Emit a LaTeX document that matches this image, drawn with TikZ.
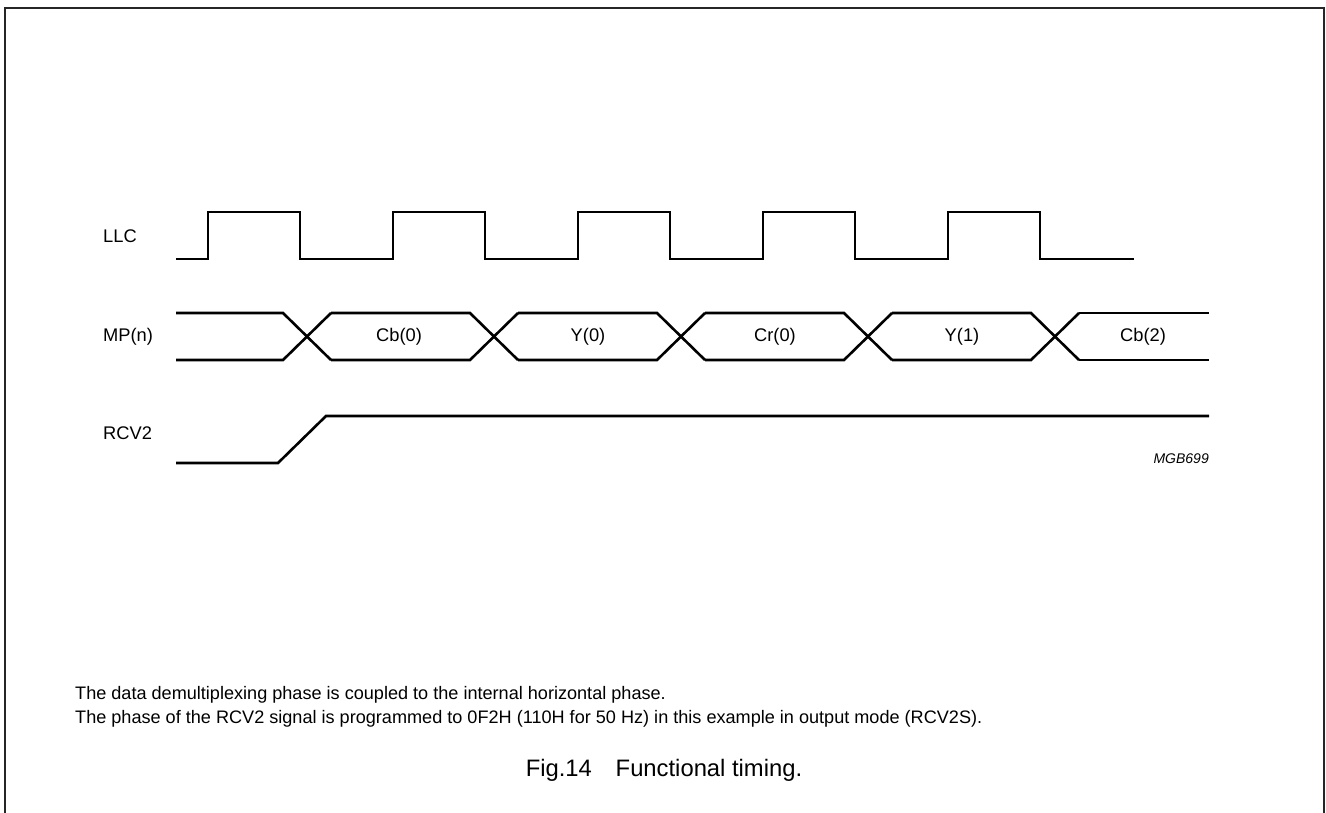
\documentclass[tikz,border=0pt]{standalone}
\usepackage{fontspec}
\setmainfont{Liberation Sans}
\begin{document}
\begin{tikzpicture}[x=1pt,y=-1pt,
  wave/.style={line width=2.6pt,line join=miter,line cap=butt},
  frame/.style={line width=2pt,color=black!85},
  siglabel/.style={anchor=west,inner sep=0pt,font=\fontsize{18.3}{22}\selectfont},
  datalabel/.style={inner sep=0pt,font=\fontsize{18.3}{22}\selectfont},
  notetext/.style={anchor=west,inner sep=0pt,font=\fontsize{18.1}{22}\selectfont},
  figcap/.style={inner sep=0pt,font=\fontsize{23.8}{28}\selectfont},
  refcode/.style={anchor=east,inner sep=0pt,font=\fontsize{14}{17}\selectfont\itshape}]
\useasboundingbox (0,0) rectangle (1326,812);
% frame
\draw[frame] (4.5,830) -- (4.5,8) -- (1324,8) -- (1324,830);
% labels
\node[siglabel] (llc) at (103,236) {LLC};
\node[siglabel] (mp) at (103,337) {MP(n)};
\node[siglabel] (rcv) at (103,433) {RCV2};
% LLC clock
\draw[wave] (176,259)
  \foreach \k in {0,...,4}{
    -- ({208+185*\k},259) -- ({208+185*\k},212) -- ({300+185*\k},212) -- ({300+185*\k},259)
  } -- (1134,259);
% MP(n) bus
\draw[wave] (176,313) -- (283,313) -- (331,360);
\draw[wave] (176,360) -- (283,360) -- (331,313);
\foreach \k in {0,...,3}{
  \draw[wave] ({331+187*\k},313) -- ({470+187*\k},313) -- ({518+187*\k},360);
  \draw[wave] ({331+187*\k},360) -- ({470+187*\k},360) -- ({518+187*\k},313);
}
\draw[wave] (1079,313) -- (1209,313);
\draw[wave] (1079,360) -- (1209,360);
\node[datalabel] (d0) at (399,337) {Cb(0)};
\node[datalabel] (d1) at (588,337) {Y(0)};
\node[datalabel] (d2) at (775,337) {Cr(0)};
\node[datalabel] (d3) at (962,337) {Y(1)};
\node[datalabel] (d4) at (1143,337) {Cb(2)};
% RCV2
\draw[wave] (176,463) -- (278,463) -- (326,416) -- (1209,416);
\node[refcode] (code) at (1209,459) {MGB699};
% notes
\node[notetext] (n1) at (75,695) {The data demultiplexing phase is coupled to the internal horizontal phase.};
\node[notetext] (n2) at (75,719) {The phase of the RCV2 signal is programmed to 0F2H (110H for 50 Hz) in this example in output mode (RCV2S).};
\node[figcap] (cap) at (664,770) {Fig.14\quad Functional timing.};
\end{tikzpicture}
\end{document}
